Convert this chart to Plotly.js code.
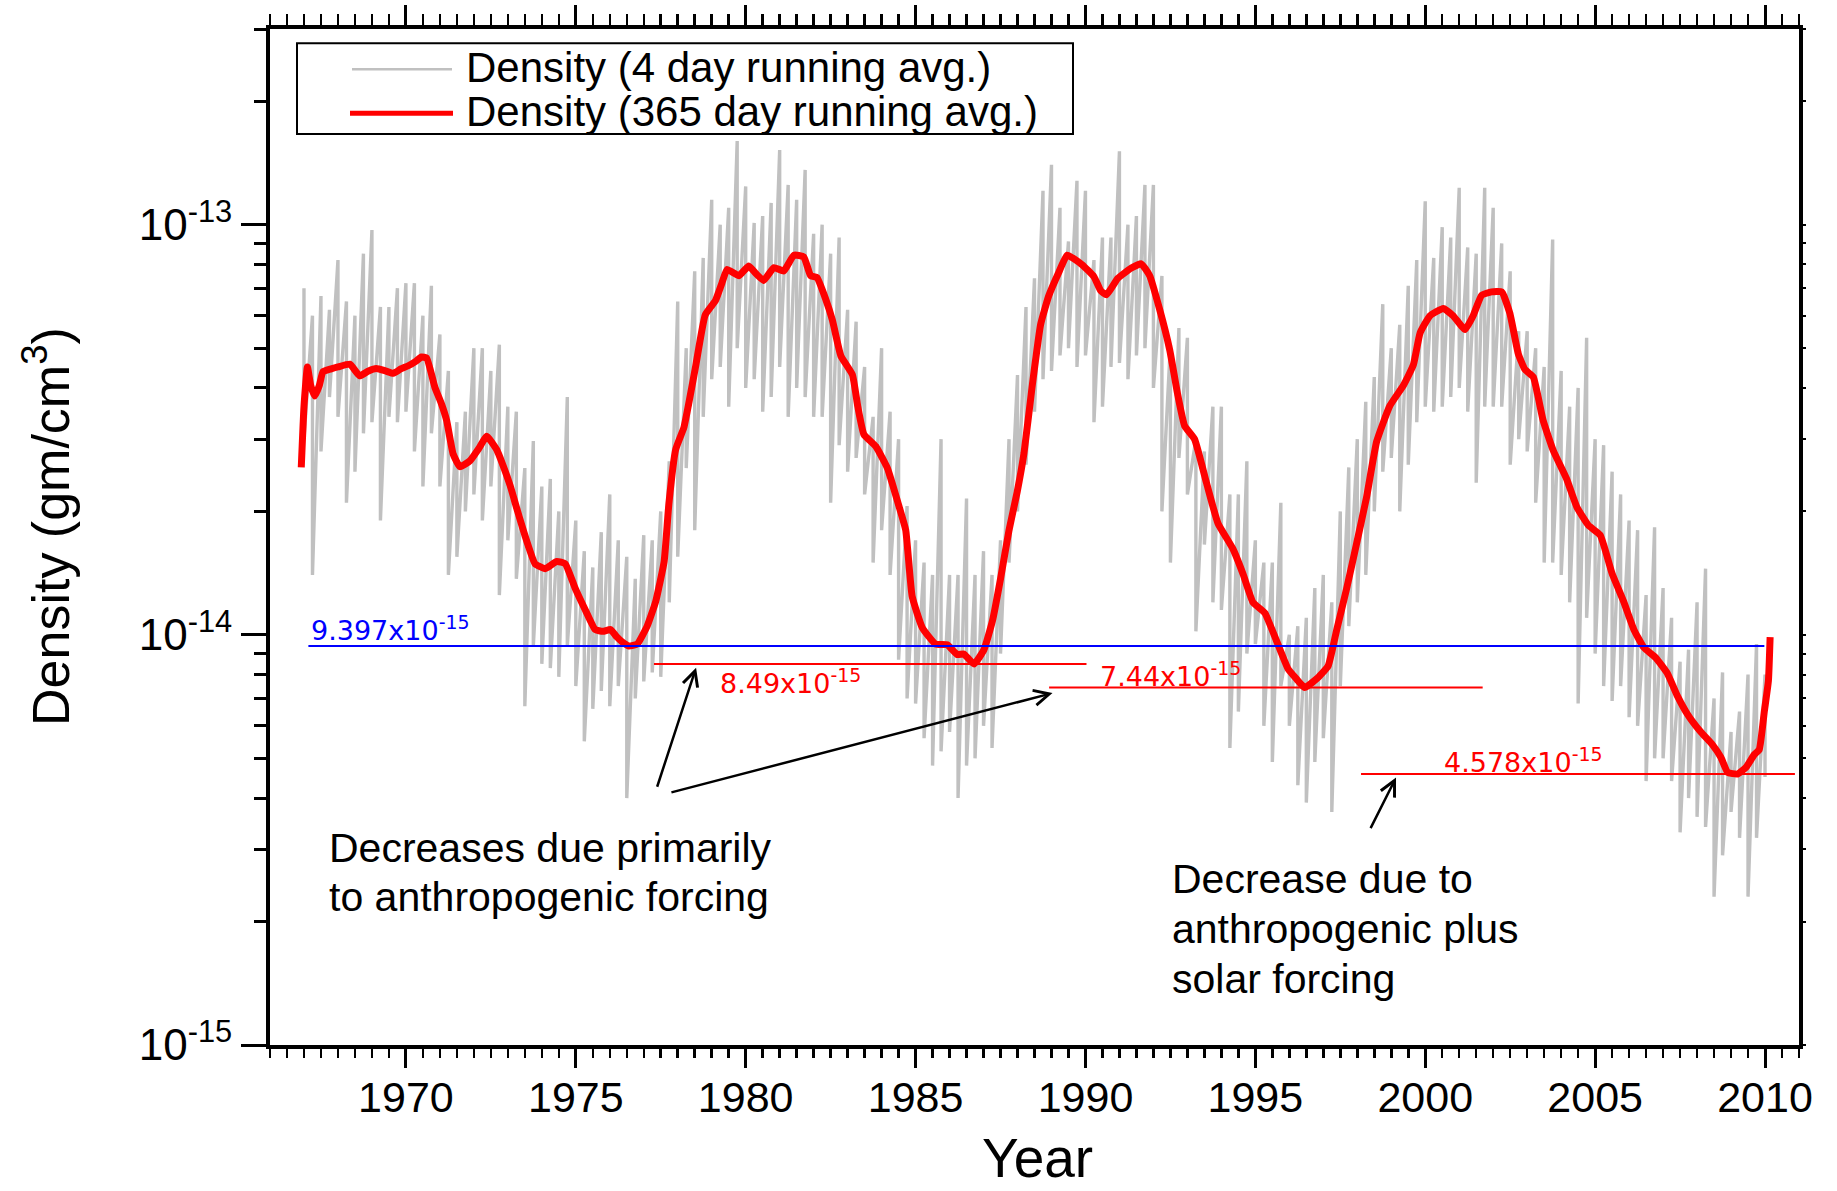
<!DOCTYPE html>
<html>
<head>
<meta charset="utf-8">
<script src="https://cdn.plot.ly/plotly-3.0.1.min.js"></script>
<style>
  html, body { margin: 0; padding: 0; background: #ffffff; }
  #chart { width: 1837px; height: 1191px; }
</style>
</head>
<body>
<div id="chart"></div>
<script>
// All densities below are in units of 1e-15 gm/cm^3
const DENSITY_UNIT = 1e-15;

// 4 day running average: upper and lower extent of the daily scatter, per quarter year
const greyYears = [
  1967, 1967.25, 1967.5, 1967.75, 1968, 1968.25, 1968.5, 1968.75,
  1969, 1969.25, 1969.5, 1969.75, 1970, 1970.25, 1970.5, 1970.75,
  1971, 1971.25, 1971.5, 1971.75, 1972, 1972.25, 1972.5, 1972.75,
  1973, 1973.25, 1973.5, 1973.75, 1974, 1974.25, 1974.5, 1974.75,
  1975, 1975.25, 1975.5, 1975.75, 1976, 1976.25, 1976.5, 1976.75,
  1977, 1977.25, 1977.5, 1977.75, 1978, 1978.25, 1978.5, 1978.75,
  1979, 1979.25, 1979.5, 1979.75, 1980, 1980.25, 1980.5, 1980.75,
  1981, 1981.25, 1981.5, 1981.75, 1982, 1982.25, 1982.5, 1982.75,
  1983, 1983.25, 1983.5, 1983.75, 1984, 1984.25, 1984.5, 1984.75,
  1985, 1985.25, 1985.5, 1985.75, 1986, 1986.25, 1986.5, 1986.75,
  1987, 1987.25, 1987.5, 1987.75, 1988, 1988.25, 1988.5, 1988.75,
  1989, 1989.25, 1989.5, 1989.75, 1990, 1990.25, 1990.5, 1990.75,
  1991, 1991.25, 1991.5, 1991.75, 1992, 1992.25, 1992.5, 1992.75,
  1993, 1993.25, 1993.5, 1993.75, 1994, 1994.25, 1994.5, 1994.75,
  1995, 1995.25, 1995.5, 1995.75, 1996, 1996.25, 1996.5, 1996.75,
  1997, 1997.25, 1997.5, 1997.75, 1998, 1998.25, 1998.5, 1998.75,
  1999, 1999.25, 1999.5, 1999.75, 2000, 2000.25, 2000.5, 2000.75,
  2001, 2001.25, 2001.5, 2001.75, 2002, 2002.25, 2002.5, 2002.75,
  2003, 2003.25, 2003.5, 2003.75, 2004, 2004.25, 2004.5, 2004.75,
  2005, 2005.25, 2005.5, 2005.75, 2006, 2006.25, 2006.5, 2006.75,
  2007, 2007.25, 2007.5, 2007.75, 2008, 2008.25, 2008.5, 2008.75,
  2009, 2009.25, 2009.5, 2009.75, 2010
];
const greyHigh = [
  70, 60, 67, 62, 82, 65, 60, 85, 97, 63, 63, 70, 72, 72, 60, 71,
  54, 44, 33, 35, 50, 50, 44, 51, 36, 35, 25.5, 29.7, 23, 24, 20, 38,
  19, 16, 14.6, 17.8, 22, 17, 15.5, 13.7, 17.5, 17, 20, 26.5, 65, 50, 77,
  83, 115, 100, 110, 160, 124, 101, 105, 113, 152, 125, 115, 136, 95, 100, 85,
  93, 62, 58, 45, 34, 50, 35, 30, 20.6, 17, 15, 14, 30, 14, 14, 21.5,
  14, 16, 14, 17, 30, 43, 63, 74, 121, 140, 110, 91, 128, 121, 82,
  93, 93, 151, 100, 105, 125, 125, 75, 51, 56, 53, 30, 28, 36, 36, 22,
  22, 26.5, 17, 15, 15, 21, 10, 10.5, 11, 13, 14, 12, 20, 25.6, 30, 37,
  42.5, 64, 50, 57, 71, 82, 114, 83, 98.6, 93, 123, 88, 85, 123, 110,
  90, 77, 55, 55, 50, 45, 92, 44, 36, 40, 53, 30, 29, 25, 22, 19,
  18, 12.5, 18.3, 13, 11, 8.6, 9.2, 12, 14.5, 7, 8.1, 5.8, 6.5, 8, 9.5, 8
];
const greyLow = [
  30, 14, 28, 38, 34, 21, 25, 31, 33, 19, 34, 33, 35, 28, 23, 31,
  23, 14, 15.5, 20, 22, 19, 23, 12.5, 17, 13.7, 6.7, 9.4, 8.5, 8.3, 7.9, 9.4,
  7.5, 5.5, 6.6, 7.3, 6.7, 7.5, 4.0, 7.0, 7.7, 8.1, 7.9, 12, 15.5, 25.5, 18,
  34, 42, 45, 36, 50, 40, 42, 35, 38, 45, 34, 40, 38, 34, 34, 21,
  29, 25, 27, 22, 15, 18, 14, 8.7, 7, 6.8, 5.6, 4.8, 5.2, 5.8, 4.0, 4.8,
  5.0, 6, 5.3, 9, 15, 20, 26, 35, 42, 44, 48, 50, 45, 48, 33,
  36, 45, 46, 42, 48, 50, 40, 20, 15, 27, 22, 10.2, 16.6, 12, 11.5, 5.3,
  6.5, 9, 9.5, 6, 4.9, 7.5, 6, 4.3, 3.9, 4.9, 5.6, 3.7, 7.5, 10.5, 12, 14,
  20, 25, 27, 20, 26, 33, 36, 35, 36, 38, 40, 35, 23.5, 36, 36,
  36, 26, 30, 28, 21, 15, 15, 14, 12, 6.8, 11, 9, 7.5, 6.9, 7.5, 6.3,
  6, 4.4, 5, 5, 4.4, 3.3, 4.0, 3.6, 3.4, 2.3, 2.9, 3.7, 3.2, 2.3, 3.2, 4.5
];

// 365 day running average
const redYears = [
  1966.92, 1967.0, 1967.1, 1967.2, 1967.32, 1967.45, 1967.56, 1967.8, 1968.0, 1968.35,
  1968.64, 1968.9, 1969.13, 1969.4, 1969.63, 1969.85, 1970.07, 1970.3, 1970.46, 1970.61,
  1970.85, 1971.05, 1971.2, 1971.39, 1971.59, 1971.89, 1972.15, 1972.38, 1972.67, 1972.85,
  1973.07, 1973.25, 1973.41, 1973.6, 1973.8, 1974.1, 1974.44, 1974.69, 1974.98, 1975.28,
  1975.57, 1975.8, 1976.02, 1976.2, 1976.36, 1976.56, 1976.81, 1977.1, 1977.35, 1977.6,
  1977.74, 1977.94, 1978.18, 1978.32, 1978.52, 1978.81, 1979.11, 1979.3, 1979.45, 1979.8,
  1980.09, 1980.3, 1980.53, 1980.83, 1981.12, 1981.42, 1981.71, 1981.91, 1982.1, 1982.35,
  1982.55, 1982.8, 1983.14, 1983.3, 1983.48, 1983.83, 1984.17, 1984.51, 1984.71, 1984.9,
  1985.2, 1985.59, 1985.93, 1986.23, 1986.42, 1986.72, 1987.01, 1987.26, 1987.5, 1987.75,
  1987.99, 1988.19, 1988.43, 1988.68, 1988.92, 1989.22, 1989.46, 1989.9, 1990.25, 1990.45,
  1990.62, 1990.95, 1991.35, 1991.64, 1991.89, 1992.18, 1992.48, 1992.72, 1992.92, 1993.21,
  1993.56, 1993.9, 1994.34, 1994.64, 1994.93, 1995.28, 1995.62, 1995.96, 1996.21, 1996.45,
  1996.8, 1997.14, 1997.39, 1997.68, 1997.98, 1998.27, 1998.57, 1998.96, 1999.36, 1999.65,
  1999.85, 2000.14, 2000.53, 2000.82, 2001.17, 2001.41, 2001.66, 2001.95, 2002.25, 2002.49,
  2002.74, 2002.93, 2003.18, 2003.47, 2003.77, 2004.16, 2004.46, 2004.8, 2005.15, 2005.5,
  2005.84, 2006.14, 2006.43, 2006.78, 2007.12, 2007.42, 2007.71, 2008.1, 2008.45, 2008.7,
  2008.9, 2009.19, 2009.44, 2009.68, 2009.83, 2009.98, 2010.1, 2010.15
];
const redDensity = [
  25.6, 36, 45, 40.5, 38.2, 40.5, 43.8, 44.5, 45, 45.7,
  42.8, 44, 44.6, 44, 43.4, 44.5, 45.3, 46.5, 47.6, 47.3,
  40.2, 36.5, 33.3, 27.6, 25.7, 26.6, 28.5, 30.5, 28.3, 26,
  23.1, 20.5, 18.5, 16.5, 14.9, 14.5, 15.1, 14.9, 13.0, 11.5,
  10.3, 10.2, 10.3, 9.9, 9.62, 9.397, 9.5, 10.5, 12.05, 15.1,
  20.9, 28.3, 32.0, 36.5, 44.8, 60.3, 65.3, 72, 77.8, 75.1,
  79.3, 76, 73.1, 78.6, 77.1, 84.3, 83.5, 75.1, 74.3, 66,
  58.6, 47.9, 43.1, 36, 30.8, 28.8, 25.5, 20.6, 18.0, 12.4,
  10.4, 9.49, 9.46, 8.95, 8.98, 8.49, 9.19, 10.8, 13.7, 18.0,
  22.3, 27.7, 40.3, 57.1, 67.1, 76.7, 84.3, 79.9, 74.7, 69,
  67.5, 74.0, 78.4, 80.3, 75.1, 62.3, 49.5, 38.3, 32.3, 30.0,
  23.5, 18.7, 16.2, 14.05, 12.0, 11.3, 9.68, 8.27, 7.81, 7.44,
  7.81, 8.39, 10.25, 12.9, 16.7, 21.6, 29.6, 36.2, 40.6, 45.5,
  54.5, 60, 62.5, 60, 55.5, 60, 67.3, 68.6, 68.6, 60.8,
  48.4, 44.4, 42.5, 33.3, 28.1, 24.0, 20.5, 18.5, 17.5, 14.1,
  12.05, 10.3, 9.32, 8.8, 8.07, 7.1, 6.42, 5.81, 5.4, 5.03,
  4.62, 4.578, 4.75, 5.1, 5.25, 6.51, 7.73, 9.87
];

// Solar-minimum reference levels and the years each level spans
const minLevels = [9.397, 8.49, 7.44, 4.578];
const minStartYears = [1967.13, 1977.30, 1988.93, 1998.11];
const minEndYears = [2009.98, 1990.03, 2001.69, 2010.88];

// Axis ticks
const yTickVals = [1e-15, 1e-14, 1e-13];
const yTickText = ['10<sup>-15</sup>', '10<sup>-14</sup>', '10<sup>-13</sup>'];
const yMinorVals = [
  2e-15, 3e-15, 4e-15, 5e-15, 6e-15, 7e-15, 8e-15, 9e-15,
  2e-14, 3e-14, 4e-14, 5e-14, 6e-14, 7e-14, 8e-14, 9e-14,
  2e-13, 3e-13
];

const seriesNames = ['Density (4 day running avg.)', 'Density (365 day running avg.)'];
const xTitle = 'Year';
const yTitle = 'Density (gm/cm<sup>3</sup>)';

// ---- styling ----
const FONT = 'Liberation Sans, Arial, Helvetica, sans-serif';
const LABEL_FONT = 'DejaVu Sans, Verdana, sans-serif';
const GREY = '#c0c0c0';
const RED = '#ff0000';
const BLUE = '#0000ff';
const levelColors = [BLUE, RED, RED, RED];
const levelLabelPos = [
  { year: 1967.16, yshift: -2 },
  { year: 1979.19, yshift: -37 },
  { year: 1990.36, yshift: -6 },
  { year: 2000.49, yshift: -6 }
];

// 4-day series drawn as a spiky trace: each sample goes up to its high, then down to its low
const greyX = [], greyY = [];
greyYears.forEach((yr, i) => {
  greyX.push(yr, yr);
  greyY.push(greyHigh[i] * DENSITY_UNIT, greyLow[i] * DENSITY_UNIT);
});

const traces = [
  {
    type: 'scatter', mode: 'lines', name: seriesNames[0],
    x: greyX, y: greyY,
    line: { color: GREY, width: 3.4 },
    hoverinfo: 'skip', showlegend: false
  },
  {
    type: 'scatter', mode: 'lines', name: seriesNames[1],
    x: redYears, y: redDensity.map(v => v * DENSITY_UNIT),
    line: { color: RED, width: 7, shape: 'spline', smoothing: 0.4 },
    showlegend: false
  }
];

minLevels.forEach((lvl, i) => {
  traces.push({
    type: 'scatter', mode: 'lines',
    x: [minStartYears[i], minEndYears[i]],
    y: [lvl * DENSITY_UNIT, lvl * DENSITY_UNIT],
    line: { color: levelColors[i], width: 2 },
    hoverinfo: 'skip', showlegend: false
  });
});

// carries the mirrored top and right axes
traces.push({
  type: 'scatter', mode: 'lines', x: [null], y: [null],
  xaxis: 'x2', yaxis: 'y2', hoverinfo: 'skip', showlegend: false
});

const X_RANGE = [1966, 2011];
const Y_RANGE = [-15, Math.log10(3e-13)];

// plot-area helpers for paper coordinates (plot area 1529 x 1016 px)
const M = { l: 270, r: 38, t: 29, b: 146 };
const PW = 1837 - M.l - M.r, PH = 1191 - M.t - M.b;
const px = x => (x - M.l) / PW;
const py = y => (1191 - M.b - y) / PH;

const annotations = [];

// axis titles, placed freely so they can sit close to the page edges
annotations.push(
  { xref: 'paper', yref: 'paper', x: px(1037), y: py(1158), xanchor: 'center', yanchor: 'middle',
    text: xTitle, showarrow: false, font: { family: FONT, size: 55, color: '#000' } },
  { xref: 'paper', yref: 'paper', x: px(47), y: py(527), xanchor: 'center', yanchor: 'middle',
    textangle: -90, text: yTitle, showarrow: false, font: { family: FONT, size: 52, color: '#000' } }
);

// value labels for the reference levels, built from the level values
minLevels.forEach((lvl, i) => {
  annotations.push({
    xref: 'x', yref: 'y',
    x: levelLabelPos[i].year, y: Math.log10(lvl * DENSITY_UNIT),
    xanchor: 'left', yanchor: 'bottom', yshift: levelLabelPos[i].yshift,
    text: lvl + 'x10<sup>-15</sup>',
    showarrow: false,
    font: { family: LABEL_FONT, size: 27, color: levelColors[i] }
  });
});

// explanatory notes
const noteLines = [
  { text: 'Decreases due primarily', x: 327, y: 847.6 },
  { text: 'to anthropogenic forcing', x: 327, y: 896.6 },
  { text: 'Decrease due to', x: 1170, y: 878.6 },
  { text: 'anthropogenic plus', x: 1170, y: 928.6 },
  { text: 'solar forcing', x: 1170, y: 978.6 }
];
noteLines.forEach(n => {
  annotations.push({
    xref: 'paper', yref: 'paper', x: px(n.x), y: py(n.y),
    xanchor: 'left', yanchor: 'middle', text: n.text, showarrow: false,
    font: { family: FONT, size: 41, color: '#000' }
  });
});

// arrows from the notes to the reference levels
const arrows = [
  { ax: 1977.38, ay: -14.374, x: 1978.54, y: -14.080 },
  { ax: 1977.77, ay: -14.385, x: 1989.03, y: -14.142 },
  { ax: 1998.37, ay: -14.475, x: 1999.14, y: -14.348 }
];
arrows.forEach(a => {
  annotations.push({
    xref: 'x', yref: 'y', axref: 'x', ayref: 'y',
    x: a.x, y: a.y, ax: a.ax, ay: a.ay, text: '',
    showarrow: true, arrowhead: 5, arrowsize: 1.2, arrowwidth: 2.5,
    arrowcolor: '#000', standoff: 0, startstandoff: 0
  });
});

// legend entries
annotations.push(
  { xref: 'paper', yref: 'paper', x: px(464), y: py(67), xanchor: 'left', yanchor: 'middle',
    text: seriesNames[0], showarrow: false, font: { family: FONT, size: 42, color: '#000' } },
  { xref: 'paper', yref: 'paper', x: px(464), y: py(111.3), xanchor: 'left', yanchor: 'middle',
    text: seriesNames[1], showarrow: false, font: { family: FONT, size: 42, color: '#000' } }
);

const shapes = [
  { type: 'rect', xref: 'paper', yref: 'paper', x0: px(297), x1: px(1073), y0: py(134), y1: py(43.3),
    line: { color: '#000', width: 2 }, fillcolor: '#ffffff', layer: 'above' },
  { type: 'line', xref: 'paper', yref: 'paper', x0: px(352), x1: px(452), y0: py(69.3), y1: py(69.3),
    line: { color: GREY, width: 2.5 }, layer: 'above' },
  { type: 'line', xref: 'paper', yref: 'paper', x0: px(350), x1: px(453), y0: py(113.3), y1: py(113.3),
    line: { color: RED, width: 5 }, layer: 'above' }
];

const xTickCommon = {
  range: X_RANGE, tickmode: 'linear', tick0: 1970, dtick: 5,
  ticks: 'outside', tickwidth: 3, tickcolor: '#000',
  showline: true, linewidth: 4, linecolor: '#000',
  showgrid: false, zeroline: false, automargin: false, fixedrange: true
};

const layout = {
  width: 1837, height: 1191,
  margin: { l: M.l, r: M.r, t: M.t, b: M.b, pad: 0 },
  paper_bgcolor: '#ffffff', plot_bgcolor: '#ffffff',
  font: { family: FONT, color: '#000', size: 43 },
  showlegend: false,
  xaxis: Object.assign({}, xTickCommon, {
    ticklen: 19,
    minor: { tickmode: 'linear', tick0: 1966, dtick: 0.5, ticks: 'outside', ticklen: 9, tickwidth: 2.5, tickcolor: '#000', showgrid: false },
    tickfont: { family: FONT, size: 43, color: '#000' },
    ticklabelstandoff: -8
  }),
  xaxis2: Object.assign({}, xTickCommon, {
    overlaying: 'x', side: 'top', anchor: 'y2', ticklen: 20,
    minor: { tickmode: 'linear', tick0: 1966, dtick: 0.5, ticks: 'outside', ticklen: 11, tickwidth: 2.5, tickcolor: '#000', showgrid: false },
    showticklabels: false
  }),
  yaxis: {
    type: 'log', range: Y_RANGE,
    tickmode: 'array', tickvals: yTickVals, ticktext: yTickText,
    ticks: 'outside', ticklen: 25, tickwidth: 3, tickcolor: '#000',
    minor: { tickmode: 'array', tickvals: yMinorVals, ticks: 'outside', ticklen: 12, tickwidth: 3, tickcolor: '#000', showgrid: false },
    showline: true, linewidth: 4, linecolor: '#000',
    showgrid: false, zeroline: false, automargin: false, fixedrange: true,
    tickfont: { family: FONT, size: 44, color: '#000' },
    ticklabelstandoff: 0
  },
  yaxis2: {
    type: 'log', range: Y_RANGE, overlaying: 'y', side: 'right', anchor: 'x2',
    tickmode: 'array', tickvals: yTickVals,
    ticks: 'outside', ticklen: 3, tickwidth: 2, tickcolor: '#000',
    minor: { tickmode: 'array', tickvals: yMinorVals, ticks: 'outside', ticklen: 3, tickwidth: 2, tickcolor: '#000', showgrid: false },
    showticklabels: false,
    showline: true, linewidth: 4, linecolor: '#000',
    showgrid: false, zeroline: false, automargin: false, fixedrange: true
  },
  shapes: shapes,
  annotations: annotations
};

Plotly.newPlot('chart', traces, layout, { staticPlot: true, displayModeBar: false });
</script>
</body>
</html>
